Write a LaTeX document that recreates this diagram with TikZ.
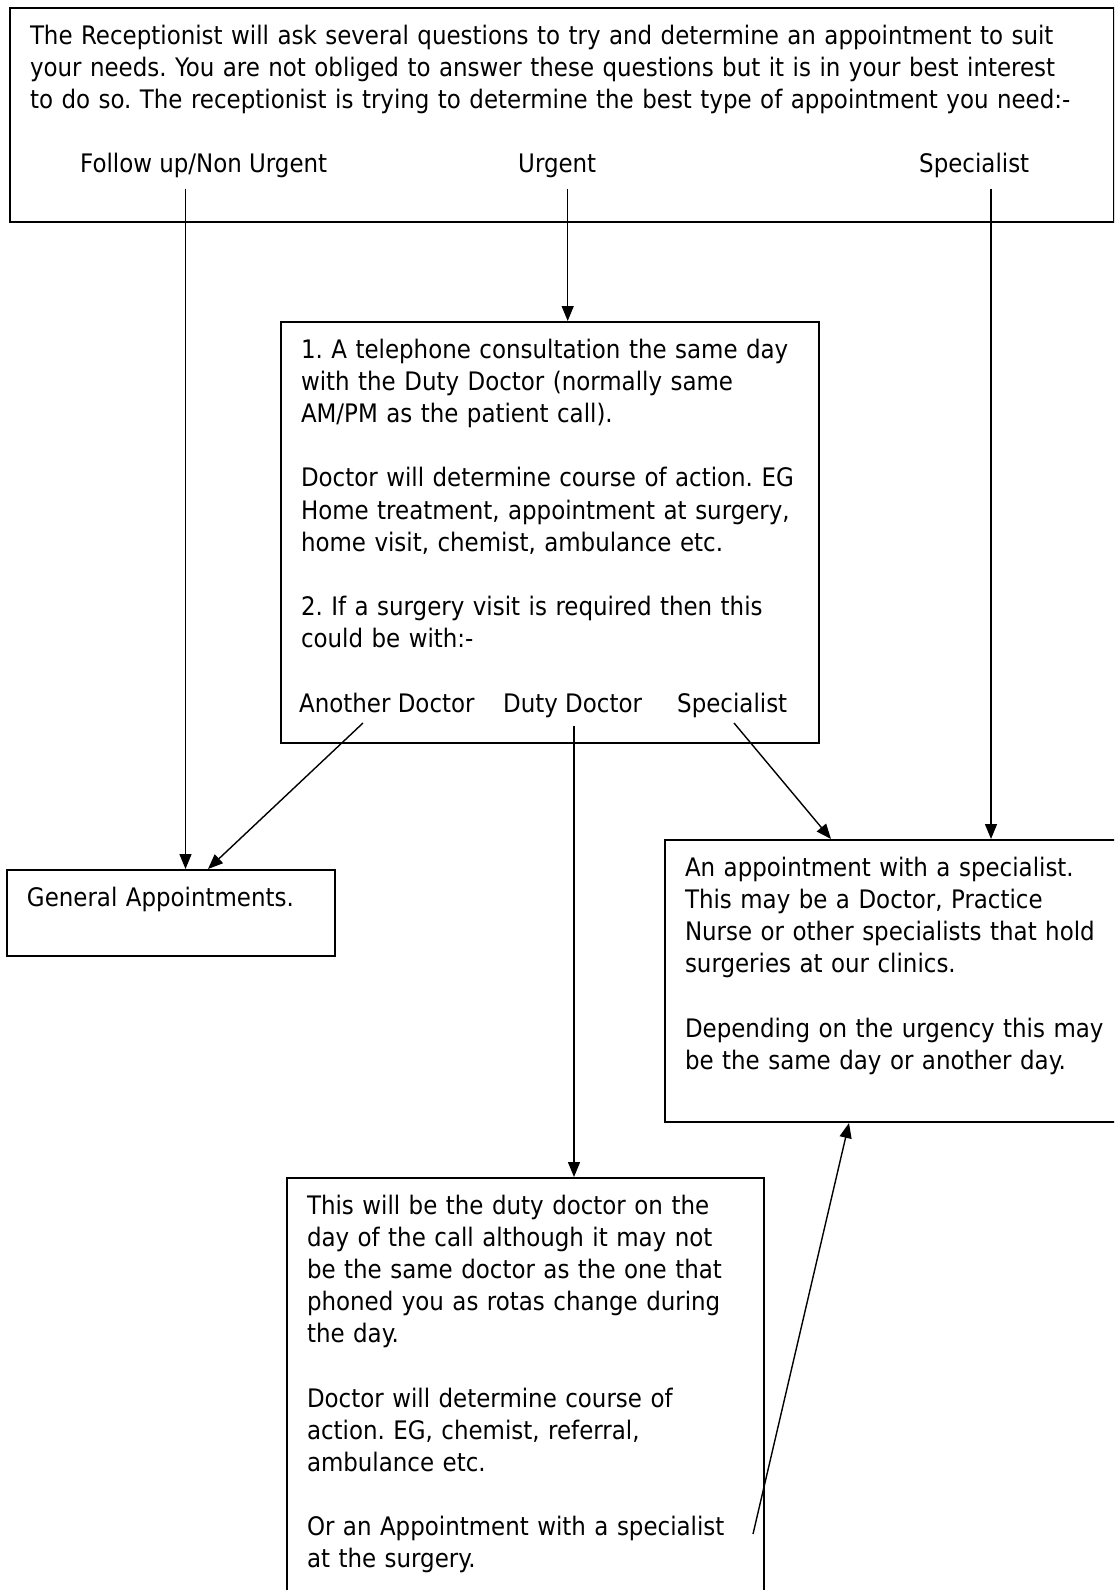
\documentclass[tikz,border=0pt]{standalone}
\usepackage{fontspec}
\setmainfont{DejaVuSansCondensed.ttf}
\usetikzlibrary{arrows.meta}
\newcommand{\boxfont}{\fontsize{25.5pt}{32.15pt}\selectfont\frenchspacing}
\begin{document}
\begin{tikzpicture}[>={Triangle[length=15pt,width=12pt]},x=1pt,y=-1pt,
	box/.style={draw,line width=2pt,anchor=north west,align=left,inner xsep=20pt,inner ysep=0pt,text height=36.3pt,font=\boxfont},
	lbl/.style={anchor=base west,inner sep=0pt,font=\boxfont},
	link/.style={->,line width=1.4pt}]
	\useasboundingbox (0,0) rectangle (1114,1590);
	\clip (0,0) rectangle (1114,1590);
	% boxes
	\node[box,text width=1064pt,text depth=177.7pt] (ask) at (9,7) {The Receptionist will ask several questions to try and determine an appointment to suit\\
		your needs. You are not obliged to answer these questions but it is in your best interest\\
		to do so. The receptionist is trying to determine the best type of appointment you need:-};
	\node[box,text width=498pt,text depth=384.7pt] (urgent) at (280,321) {1. A telephone consultation the same day\\
		with the Duty Doctor (normally same\\
		AM/PM as the patient call).\\[32.15pt]
		Doctor will determine course of action. EG\\
		Home treatment, appointment at surgery,\\
		home visit, chemist, ambulance etc.\\[32.15pt]
		2. If a surgery visit is required then this\\
		could be with:-};
	\node[box,text width=288pt,text depth=49.7pt] (general) at (6,869) {General Appointments.};
	\node[box,text width=440pt,text depth=245.7pt] (special) at (664,839) {An appointment with a specialist.\\
		This may be a Doctor, Practice\\
		Nurse or other specialists that hold\\
		surgeries at our clinics.\\[32.15pt]
		Depending on the urgency this may\\
		be the same day or another day.};
	\node[box,text width=437pt,text depth=400pt] (duty) at (286,1177) {This will be the duty doctor on the\\
		day of the call although it may not\\
		be the same doctor as the one that\\
		phoned you as rotas change during\\
		the day.\\[32.15pt]
		Doctor will determine course of\\
		action. EG, chemist, referral,\\
		ambulance etc.\\[32.15pt]
		Or an Appointment with a specialist\\
		at the surgery.};
	% labels
	\node[lbl] (fu) at (80,172) {Follow up/Non Urgent};
	\node[lbl] (urg) at (518,172) {Urgent};
	\node[lbl] (spc) at (919,172) {Specialist};
	\node[lbl] (another) at (299,712) {Another Doctor};
	\node[lbl] (dutydoc) at (503,712) {Duty Doctor};
	\node[lbl] (spc2) at (677,712) {Specialist};
	% connectors
	\coordinate (fuout) at ([xshift=105.5pt,yshift=-16.5pt]fu.base west);
	\coordinate (urgout) at ([xshift=49.7pt,yshift=-16.5pt]urg.base west);
	\coordinate (spcout) at ([xshift=72pt,yshift=-16.5pt]spc.base west);
	\coordinate (dutyout) at ([xshift=71pt,yshift=-14pt]dutydoc.base west);
	\draw[link] (fuout) -- (fuout |- general.north);
	\draw[link] (urgout) -- (urgout |- urgent.north);
	\draw[link] (spcout) -- (spcout |- special.north);
	\draw[link] ([xshift=64pt,yshift=-11pt]another.base west) -- ([xshift=202pt]general.north west);
	\draw[link] (dutyout) -- (dutyout |- duty.north);
	\draw[link] ([xshift=57pt,yshift=-11pt]spc2.base west) -- ([xshift=167pt]special.north west);
	\draw[link] ([xshift=-12pt,yshift=-357pt]duty.north east) -- ([xshift=185pt]special.south west);
\end{tikzpicture}
\end{document}
